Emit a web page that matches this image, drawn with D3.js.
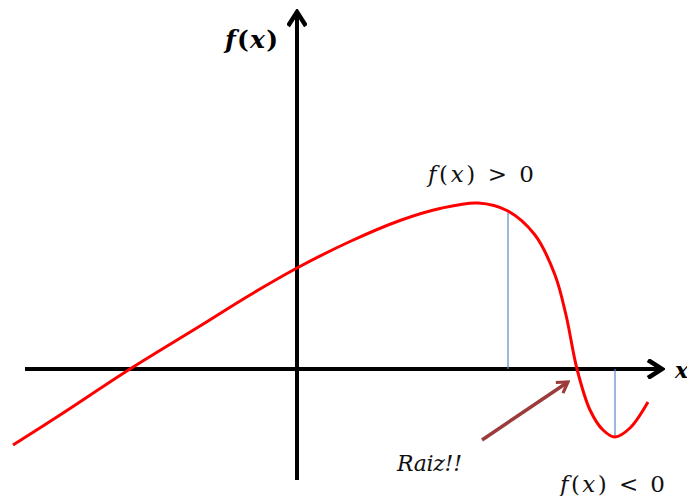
<!DOCTYPE html>
<meta charset="utf-8">
<style>
    body { margin: 0; background: #fff; }
    text { font-family: "DejaVu Serif", "Liberation Serif", serif; }
</style>
<body>
<script src="https://d3js.org/d3.v7.min.js"></script>
<script>

    var width = 687, height = 496;

    // Curve samples (math units)
    var curveX = [-5.68, -4.74, -3.34, -1.94, -0.94, 0, 1.06, 2.06, 2.86, 3.62, 4.22, 4.76, 5.16, 5.38, 5.6, 5.86, 6.12, 6.36, 6.66, 7.02];
    var curveY = [-1.52, -0.92, 0, 0.86, 1.48, 2.02, 2.55, 2.97, 3.21, 3.32, 3.16, 2.68, 1.88, 1.08, 0, -0.82, -1.22, -1.36, -1.18, -0.66];

    // Axis extents
    var xDomain = [-5.44, 7.3];
    var yDomain = [-2.22, 7.14];

    // Vertical guide lines: x positions and the curve value where they stop
    var guideX = [4.22, 6.36];
    var guideY = [3.16, -1.36];

    // Annotation arrow (Raiz!!) from / to
    var rootArrow = [[3.7, -1.42], [5.42, -0.26]];

    var x = d3.scaleLinear().domain(xDomain).range([25, 662]);
    var y = d3.scaleLinear().domain(yDomain).range([480, 12]);

    var svg = d3.select("body").append("svg")
        .attr("width", width)
        .attr("height", height);

    var defs = svg.append("defs");

    // open chevron arrowheads
    defs.append("marker")
        .attr("id", "axisArrow")
        .attr("viewBox", "0 0 20 20")
        .attr("refX", 17).attr("refY", 10)
        .attr("markerWidth", 20).attr("markerHeight", 20)
        .attr("markerUnits", "userSpaceOnUse")
        .attr("orient", "auto")
        .append("path")
        .attr("d", "M3,1 L17,10 L3,19")
        .attr("fill", "none")
        .attr("stroke", "#000")
        .attr("stroke-width", 4.5)
        .attr("stroke-linejoin", "miter");

    defs.append("marker")
        .attr("id", "rootArrow")
        .attr("viewBox", "0 0 20 20")
        .attr("refX", 17).attr("refY", 10)
        .attr("markerWidth", 16).attr("markerHeight", 16)
        .attr("markerUnits", "userSpaceOnUse")
        .attr("orient", "auto")
        .append("path")
        .attr("d", "M4,2 L17,10 L4,18")
        .attr("fill", "none")
        .attr("stroke", "#9b3b3b")
        .attr("stroke-width", 4);

    // axes
    svg.append("line")
        .attr("x1", x(xDomain[0])).attr("y1", y(0))
        .attr("x2", x(xDomain[1])).attr("y2", y(0))
        .attr("stroke", "#000").attr("stroke-width", 4)
        .attr("marker-end", "url(#axisArrow)");

    svg.append("line")
        .attr("x1", x(0)).attr("y1", y(yDomain[0]))
        .attr("x2", x(0)).attr("y2", y(yDomain[1]))
        .attr("stroke", "#000").attr("stroke-width", 4)
        .attr("marker-end", "url(#axisArrow)");

    // guide lines
    svg.selectAll(".guide")
        .data(guideX)
        .enter().append("line")
        .attr("class", "guide")
        .attr("x1", function(d) { return x(d); })
        .attr("x2", function(d) { return x(d); })
        .attr("y1", y(0))
        .attr("y2", function(d, i) { return y(guideY[i]); })
        .attr("stroke", "#5b86c6")
        .attr("stroke-width", 1.2);

    // function curve
    var pts = curveX.map(function(d, i) { return [d, curveY[i]]; });
    var line = d3.line()
        .x(function(d) { return x(d[0]); })
        .y(function(d) { return y(d[1]); })
        .curve(d3.curveCatmullRom.alpha(0.5));

    svg.append("path")
        .datum(pts)
        .attr("d", line)
        .attr("fill", "none")
        .attr("stroke", "#ff0000")
        .attr("stroke-width", 3);

    // root arrow
    svg.append("line")
        .attr("x1", x(rootArrow[0][0])).attr("y1", y(rootArrow[0][1]))
        .attr("x2", x(rootArrow[1][0])).attr("y2", y(rootArrow[1][1]))
        .attr("stroke", "#9b3b3b").attr("stroke-width", 3.5)
        .attr("marker-end", "url(#rootArrow)");

    // labels
    function fx(sel, rest) {
        sel.append("tspan").attr("font-style", "italic").text("f");
        sel.append("tspan").text("(");
        sel.append("tspan").attr("font-style", "italic").text("x");
        sel.append("tspan").text(")" + rest);
    }

    var yLabel = svg.append("text")
        .attr("x", 225).attr("y", 48)
        .attr("font-size", 25)
        .attr("font-weight", "bold")
        .attr("fill", "#000")
        .attr("textLength", 53)
        .attr("lengthAdjust", "spacing");
    fx(yLabel, "");

    var posLabel = svg.append("text")
        .attr("x", 428).attr("y", 182)
        .attr("font-size", 23)
        .attr("fill", "#111")
        .attr("textLength", 106)
        .attr("lengthAdjust", "spacing");
    fx(posLabel, " > 0");

    var negLabel = svg.append("text")
        .attr("x", 560).attr("y", 492)
        .attr("font-size", 23)
        .attr("fill", "#111")
        .attr("textLength", 105)
        .attr("lengthAdjust", "spacing");
    fx(negLabel, " < 0");

    svg.append("text")
        .attr("x", 397).attr("y", 471)
        .attr("font-size", 22)
        .attr("font-style", "italic")
        .attr("fill", "#111")
        .attr("textLength", 65)
        .attr("lengthAdjust", "spacing")
        .text("Raiz!!");

    svg.append("text")
        .attr("x", 675).attr("y", 378)
        .attr("font-size", 22)
        .attr("font-style", "italic")
        .attr("font-weight", "bold")
        .attr("fill", "#000")
        .text("x");

</script>
</body>
